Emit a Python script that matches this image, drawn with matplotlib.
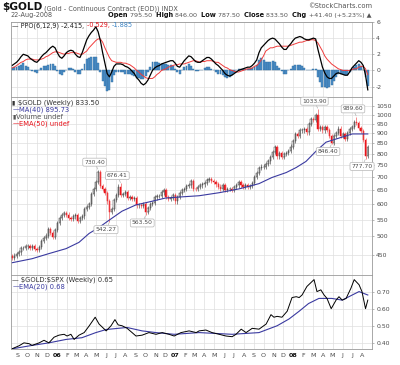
import matplotlib
matplotlib.use('Agg')
import matplotlib.pyplot as plt
from matplotlib.ticker import FixedLocator, FuncFormatter, NullLocator
from matplotlib.offsetbox import TextArea, HPacker, AnchoredOffsetbox
import numpy as np
import pandas as pd

plt.rcParams.update({
    'font.family': 'DejaVu Sans',
    'font.size': 4.5,
    'axes.edgecolor': '#9a9a9a',
    'axes.linewidth': 0.6,
})

RED = '#e8141c'
BLUE = '#3a3aa0'
HIST_BLUE = '#4d8fc9'
GRID = '#dedede'
TXT = '#4a4a4a'

# ── data (weekly bars, Monday of each week from 15-Aug-2005) ─────────────────
first_open = 446.0
closes = [
    442, 448,                                   # 2005 Aug
    452, 456, 468, 468, 472,                    # Sep
    472, 468, 472, 465,                         # Oct
    462, 470, 486, 496,                         # Nov
    502, 520, 510, 498, 518,                    # Dec
    540, 554, 564, 570,                         # 2006 Jan
    566, 554, 552, 560,                         # Feb
    564, 545, 556, 560, 584,                    # Mar
    592, 600, 636, 654,                         # Apr
    680, 722, 665, 655,                         # May
    640, 610, 575, 585, 616,                    # Jun
    632, 664, 632, 636,                         # Jul
    642, 622, 626, 620,                         # Aug
    622, 596, 598, 595, 600,                    # Sep
    574, 588, 600, 604,                         # Oct
    624, 628, 630, 642,                         # Nov
    650, 626, 618, 622, 632,                    # Dec
    610, 626, 640, 650,                         # 2007 Jan
    654, 666, 668, 686,                         # Feb
    656, 654, 662, 668, 672,                    # Mar
    678, 690, 692, 684,                         # Apr
    682, 672, 664, 656,                         # May
    668, 650, 656, 656, 652,                    # Jun
    662, 668, 682, 668,                         # Jul
    664, 670, 664, 666, 676,                    # Aug
    700, 716, 738, 744,                         # Sep
    744, 754, 766, 786,                         # Oct
    808, 832, 788, 802, 784,                    # Nov
    800, 804, 812, 834,                         # Dec
    860, 896, 884, 914,                         # 2008 Jan
    914, 920, 904, 948, 974,                    # Feb
    972, 1000, 920, 932,                        # Mar
    914, 932, 918, 886,                         # Apr
    852, 884, 900, 924, 888,                    # May
    896, 870, 900, 920,                         # Jun
    932, 958, 954, 928,                         # Jul
    912, 864, 792, 833.5,                       # Aug
]

ppo = [
    0.6, 0.8, 1.0, 1.3, 1.7, 2.0, 1.9, 1.8, 1.5, 1.3,
    1.1, 1.0, 1.3, 1.7, 2.0, 2.2, 2.5, 2.8, 3.0, 2.8,
    2.2, 1.7, 1.5, 1.8, 2.2, 2.4, 2.5, 2.4, 2.0, 1.7,
    1.6, 2.2, 3.0, 3.8, 4.3, 4.7, 5.0, 5.4, 4.8, 3.7,
    2.2, 0.9, -0.4, -0.8, -0.2, 0.5, 0.8, 0.8, 0.8, 0.7,
    0.5, 0.4, 0.2, -0.1, -0.4, -0.9, -1.2, -1.6, -1.8, -1.6,
    -1.2, -0.6, 0.0, 0.3, 0.5, 0.6, 0.8, 0.9, 1.0, 1.1,
    1.2, 1.2, 0.9, 0.5, 0.4, 0.8, 1.2, 1.5, 1.8, 1.7,
    1.4, 1.1, 1.0, 1.0, 1.2, 1.4, 1.6, 1.6, 1.4, 1.1,
    0.8, 0.6, 0.3, 0.0, -0.4, -0.6, -0.7, -0.6, -0.4, -0.2,
    0.0, 0.1, 0.2, 0.3, 0.4, 0.4, 0.6, 0.9, 1.3, 2.2,
    2.8, 3.1, 3.4, 3.7, 3.9, 4.0, 3.9, 3.6, 3.3, 2.9,
    2.6, 2.6, 3.0, 3.3, 3.7, 4.0, 4.1, 4.2, 4.1, 3.9,
    3.8, 3.8, 3.9, 4.0, 3.9, 2.6, 1.5, 0.4, -0.3, -0.8,
    -1.0, -1.0, -0.7, -0.4, -0.3, -0.4, -0.5, -0.6, -0.6, -0.2,
    0.3, 0.6, 0.9, 1.2, 1.0, 0.6, -0.6, -2.415,
]
ppo_signal = [
    0.3, 0.4, 0.6, 0.8, 1.0, 1.1, 1.3, 1.4, 1.4, 1.4,
    1.3, 1.3, 1.3, 1.4, 1.5, 1.7, 1.8, 2.0, 2.2, 2.3,
    2.3, 2.2, 2.1, 2.0, 2.1, 2.1, 2.2, 2.2, 2.2, 2.1,
    2.0, 2.0, 2.2, 2.4, 2.8, 3.1, 3.4, 3.7, 3.9, 3.9,
    3.5, 2.8, 2.2, 1.6, 1.2, 1.1, 1.0, 1.0, 1.0, 0.9,
    0.9, 0.8, 0.7, 0.5, 0.3, 0.0, -0.2, -0.5, -0.7, -0.9,
    -1.0, -1.0, -1.0, -0.8, -0.5, -0.3, 0.0, 0.1, 0.2, 0.4,
    0.5, 0.6, 0.7, 0.7, 0.8, 0.8, 0.8, 0.9, 1.0, 1.1,
    1.2, 1.2, 1.1, 1.0, 1.1, 1.1, 1.2, 1.2, 1.2, 1.1,
    1.0, 1.0, 0.8, 0.6, 0.4, 0.3, 0.1, 0.0, -0.1, -0.2,
    -0.2, -0.1, 0.0, 0.1, 0.2, 0.2, 0.3, 0.5, 0.6, 0.9,
    1.3, 1.8, 2.4, 2.6, 2.8, 2.8, 2.9, 3.0, 3.0, 3.0,
    3.0, 3.0, 3.0, 3.1, 3.2, 3.3, 3.4, 3.5, 3.5, 3.6,
    3.7, 3.7, 3.8, 3.8, 3.7, 3.4, 2.9, 2.4, 1.8, 1.4,
    1.1, 0.8, 0.6, 0.4, 0.2, 0.1, 0.0, 0.0, 0.0, 0.0,
    0.1, 0.2, 0.2, 0.4, 0.5, 0.5, 0.2, -0.529,
]

ma40_dates = ['2005-08-15', '2005-10-16', '2005-12-07', '2006-01-29', '2006-03-10',
              '2006-04-10', '2006-05-11', '2006-06-11', '2006-07-21', '2006-09-02',
              '2006-10-12', '2006-12-03', '2007-01-22', '2007-03-16', '2007-05-17',
              '2007-07-17', '2007-09-17', '2007-10-27', '2007-12-10', '2008-01-10',
              '2008-02-09', '2008-03-11', '2008-04-11', '2008-05-21', '2008-07-01',
              '2008-08-18']
ma40_vals = [430, 440, 453, 466, 483, 508, 526, 548, 577, 598, 608, 622, 626, 630,
             641, 655, 675, 699, 719, 740, 766, 812, 855, 875, 896, 896]

# labelled highs / lows
ann_dates = ['2006-05-08', '2006-06-12', '2006-07-17', '2006-10-02',
             '2008-03-17', '2008-04-28', '2008-07-14', '2008-08-11']
ann_vals = [730.40, 542.27, 676.41, 563.50, 1033.90, 846.40, 989.60, 777.70]

ratio_dates = ['2005-08-15', '2005-09-06', '2005-09-21', '2005-10-07', '2005-10-16',
               '2005-11-07', '2005-11-22', '2005-12-07', '2005-12-23', '2006-01-07',
               '2006-01-23', '2006-02-01', '2006-02-13', '2006-02-23', '2006-03-10',
               '2006-03-26', '2006-04-10', '2006-04-29', '2006-05-11', '2006-06-02',
               '2006-06-17', '2006-06-29', '2006-07-09', '2006-07-21', '2006-08-05',
               '2006-08-21', '2006-09-02', '2006-09-21', '2006-10-12', '2006-11-03',
               '2006-11-22', '2006-12-13', '2006-12-29', '2007-01-19', '2007-02-13',
               '2007-03-07', '2007-03-16', '2007-04-06', '2007-04-25', '2007-05-17',
               '2007-06-07', '2007-06-26', '2007-07-08', '2007-07-24', '2007-08-08',
               '2007-08-27', '2007-09-17', '2007-10-09', '2007-10-24', '2007-11-02',
               '2007-11-12', '2007-11-27', '2007-12-13', '2007-12-28', '2008-01-10',
               '2008-01-19', '2008-01-28', '2008-02-12', '2008-03-05', '2008-03-14',
               '2008-03-26', '2008-04-05', '2008-04-14', '2008-04-27', '2008-05-12',
               '2008-05-21', '2008-05-31', '2008-06-12', '2008-06-27', '2008-07-07',
               '2008-07-22', '2008-07-31', '2008-08-11', '2008-08-18']
ratio_vals = [0.365, 0.383, 0.400, 0.395, 0.385, 0.400, 0.415, 0.400, 0.433, 0.445,
              0.450, 0.440, 0.450, 0.420, 0.445, 0.460, 0.498, 0.550, 0.510, 0.470,
              0.500, 0.536, 0.505, 0.500, 0.486, 0.460, 0.440, 0.445, 0.460, 0.450,
              0.460, 0.450, 0.440, 0.460, 0.470, 0.460, 0.470, 0.475, 0.460, 0.450,
              0.440, 0.436, 0.450, 0.480, 0.460, 0.485, 0.480, 0.510, 0.565, 0.550,
              0.555, 0.550, 0.585, 0.665, 0.670, 0.665, 0.680, 0.730, 0.770, 0.700,
              0.710, 0.680, 0.660, 0.600, 0.650, 0.670, 0.650, 0.660, 0.720, 0.770,
              0.740, 0.700, 0.600, 0.650]

ratio_ema_dates = ['2005-08-15', '2005-10-16', '2005-12-07', '2006-01-29', '2006-03-19',
                   '2006-05-01', '2006-06-02', '2006-08-05', '2006-09-21', '2006-11-03',
                   '2006-12-29', '2007-03-16', '2007-06-26', '2007-09-17', '2007-11-12',
                   '2007-12-19', '2008-01-19', '2008-02-17', '2008-03-20', '2008-04-29',
                   '2008-05-31', '2008-07-01', '2008-07-22', '2008-08-18']
ratio_ema_vals = [0.365, 0.385, 0.400, 0.420, 0.430, 0.460, 0.478, 0.490, 0.470, 0.460,
                  0.450, 0.460, 0.450, 0.460, 0.500, 0.540, 0.585, 0.630, 0.660, 0.660,
                  0.650, 0.680, 0.700, 0.680]

# ── figure ────────────────────────────────────────────────────────────────────
weeks = pd.date_range('2005-08-15', periods=len(closes), freq='7D')
x_lo, x_hi = pd.Timestamp('2005-08-12'), pd.Timestamp('2008-08-31')
month_starts = pd.date_range('2005-09-01', '2008-08-01', freq='MS')

fig = plt.figure(figsize=(4.0, 3.65), dpi=100)
hdr = fig.add_axes([0, 0, 1, 1])
hdr.axis('off')

L, W = 11 / 400, 361 / 400
ax1 = fig.add_axes([L, 1 - 97 / 365, W, 75 / 365])
ax2 = fig.add_axes([L, 1 - 275 / 365, W, 178 / 365])
ax3 = fig.add_axes([L, 1 - 349 / 365, W, 74 / 365])


def rich(ax, x, y, parts, loc='upper left'):
    boxes = [TextArea(t, textprops=dict(color=c, fontsize=s, fontweight=w))
             for t, c, w, s in parts]
    row = HPacker(children=boxes, align='baseline', pad=0, sep=0)
    box = AnchoredOffsetbox(loc=loc, child=row, pad=0, borderpad=0, frameon=False,
                            bbox_to_anchor=(x, y), bbox_transform=ax.transAxes)
    ax.add_artist(box)


for ax in (ax1, ax2, ax3):
    ax.set_xlim(x_lo, x_hi)
    ax.xaxis.set_major_locator(FixedLocator(matplotlib.dates.date2num(month_starts)))
    ax.xaxis.set_minor_locator(NullLocator())
    ax.yaxis.tick_right()
    ax.tick_params(axis='y', labelsize=4.4, labelcolor=TXT, length=1.5, width=0.5,
                   color='#9a9a9a', pad=1.5)
    ax.tick_params(axis='x', length=0, labelbottom=False)
    ax.grid(True, color=GRID, lw=0.5)
    ax.set_axisbelow(True)

# ── PPO panel ─────────────────────────────────────────────────────────────────
hist = np.array(ppo) - np.array(ppo_signal)
ax1.bar(weeks, hist, width=6, color=HIST_BLUE, edgecolor='#2f6a9c', lw=0.3)
ax1.plot(weeks, ppo_signal, color='#f03c3c', lw=0.7)
ax1.plot(weeks, ppo, color='black', lw=0.9)
ax1.set_ylim(-3.3, 5.9)
ax1.set_yticks([-2, 0, 2, 4, 6])
ax1.yaxis.set_major_formatter(FuncFormatter(lambda v, p: f'{v:.0f}'))
rich(ax1, 0.004, 0.995, [('\u2014 PPO(6,12,9) -2.415, ', '#222222', 'normal', 4.7),
                         ('-0.529, ', RED, 'normal', 4.7),
                         ('-1.885', '#3d85c6', 'normal', 4.7)])

# ── price panel ───────────────────────────────────────────────────────────────
c = np.array(closes, dtype=float)
o = np.r_[first_open, c[:-1]]
up = c >= o
body_lo, body_hi = np.minimum(o, c), np.maximum(o, c)
hi, lo = body_hi * 1.012, body_lo * 0.988
for d, v in zip(ann_dates, ann_vals):
    i = weeks.get_loc(pd.Timestamp(d))
    if v > body_hi[i]:
        hi[i] = v
    else:
        lo[i] = v

ax2.set_yscale('log')
ax2.vlines(weeks, lo, hi, colors=np.where(up, '#444444', '#f04848'), lw=0.45)
ax2.bar(weeks[up], (body_hi - body_lo)[up], bottom=body_lo[up], width=4,
        facecolor='white', edgecolor='#333333', lw=0.35)
ax2.bar(weeks[~up], (body_hi - body_lo)[~up], bottom=body_lo[~up], width=4,
        facecolor=RED, edgecolor=RED, lw=0.35)
ax2.plot(pd.to_datetime(ma40_dates), ma40_vals, color=BLUE, lw=0.8)

for d, v in zip(ann_dates, ann_vals):
    i = weeks.get_loc(pd.Timestamp(d))
    above = v >= body_hi[i]
    ax2.annotate(f'{v:.2f}', xy=(weeks[i], v), xytext=(-2.5, 5.5 if above else -5.5),
                 textcoords='offset points', ha='center', va='center',
                 fontsize=4.3, color=TXT,
                 bbox=dict(boxstyle='round,pad=0.25', fc='white', ec='#b5b5b5', lw=0.5),
                 arrowprops=dict(arrowstyle='-', color='#b5b5b5', lw=0.5,
                                 shrinkA=0, shrinkB=0.5))

ax2.set_ylim(401, 1106)
price_ticks = [450, 500, 550, 600, 650, 700, 750, 800, 850, 900, 950, 1000, 1050]
ax2.yaxis.set_major_locator(FixedLocator(price_ticks))
ax2.yaxis.set_minor_locator(NullLocator())
ax2.yaxis.set_major_formatter(FuncFormatter(lambda v, p: f'{v:.0f}'))

leg_y = 0.985
step = 7 / 178
rich(ax2, 0.004, leg_y, [('\u25ae ', '#333333', 'normal', 4.4),
                         ('\\$GOLD (Weekly) 833.50', '#333333', 'normal', 4.9)])
rich(ax2, 0.004, leg_y - step, [('\u2014', BLUE, 'normal', 4.9),
                                ('MA(40) 895.73', BLUE, 'normal', 4.9)])
rich(ax2, 0.004, leg_y - 2 * step, [('\u25ae', '#555555', 'normal', 4.4),
                                    ('Volume undef', '#555555', 'normal', 4.9)])
rich(ax2, 0.004, leg_y - 3 * step, [('\u2014', RED, 'normal', 4.9),
                                    ('EMA(50) undef', RED, 'normal', 4.9)])

# ── ratio panel ───────────────────────────────────────────────────────────────
ax3.plot(pd.to_datetime(ratio_ema_dates), ratio_ema_vals, color=BLUE, lw=0.8)
ax3.plot(pd.to_datetime(ratio_dates), ratio_vals, color='black', lw=0.7)
ax3.set_ylim(0.364, 0.797)
ax3.set_yticks([0.40, 0.50, 0.60, 0.70])
ax3.yaxis.set_major_formatter(FuncFormatter(lambda v, p: f'{v:.2f}'))

labels = ['JFMAMJJASOND'[m.month - 1] if m.month != 1 else f'{m.year % 100:02d}'
          for m in month_starts]
ax3.tick_params(axis='x', labelbottom=True, labelsize=4.6, labelcolor=TXT, pad=3)
ax3.set_xticklabels(labels)
for lab, m in zip(ax3.get_xticklabels(), month_starts):
    if m.month == 1:
        lab.set_fontweight('bold')
        lab.set_color('#111111')

rich(ax3, 0.004, 0.985, [('\u2014 \\$GOLD:\\$SPX (Weekly) 0.65', '#333333', 'normal', 4.9)])
rich(ax3, 0.004, 0.985 - 7 / 74, [('\u2014', BLUE, 'normal', 4.9),
                                  ('EMA(20) 0.68', BLUE, 'normal', 4.9)])

# ── header ────────────────────────────────────────────────────────────────────
rich(hdr, 0.005, 1 - 2 / 365, [('\\$GOLD', '#111111', 'bold', 7.6),
                               (' (Gold - Continuous Contract (EOD)) INDX', '#555555', 'normal', 4.7)])
rich(hdr, 0.93, 1 - 3 / 365, [('\u00a9StockCharts.com', '#555555', 'normal', 4.9)],
     loc='upper right')
rich(hdr, 0.025, 1 - 12 / 365, [('22-Aug-2008', '#555555', 'normal', 4.7)])
rich(hdr, 0.928, 1 - 12 / 365, [('Open ', '#111111', 'bold', 4.8), ('795.50  ', '#555555', 'normal', 4.6),
                                ('High ', '#111111', 'bold', 4.8), ('846.00  ', '#555555', 'normal', 4.6),
                                ('Low ', '#111111', 'bold', 4.8), ('787.50  ', '#555555', 'normal', 4.6),
                                ('Close ', '#111111', 'bold', 4.8), ('833.50  ', '#555555', 'normal', 4.6),
                                ('Chg ', '#111111', 'bold', 4.8),
                                ('+41.40 (+5.23%) \u25b2', '#555555', 'normal', 4.6)],
     loc='upper right')

fig.savefig('out.png', dpi=100, facecolor='white')
